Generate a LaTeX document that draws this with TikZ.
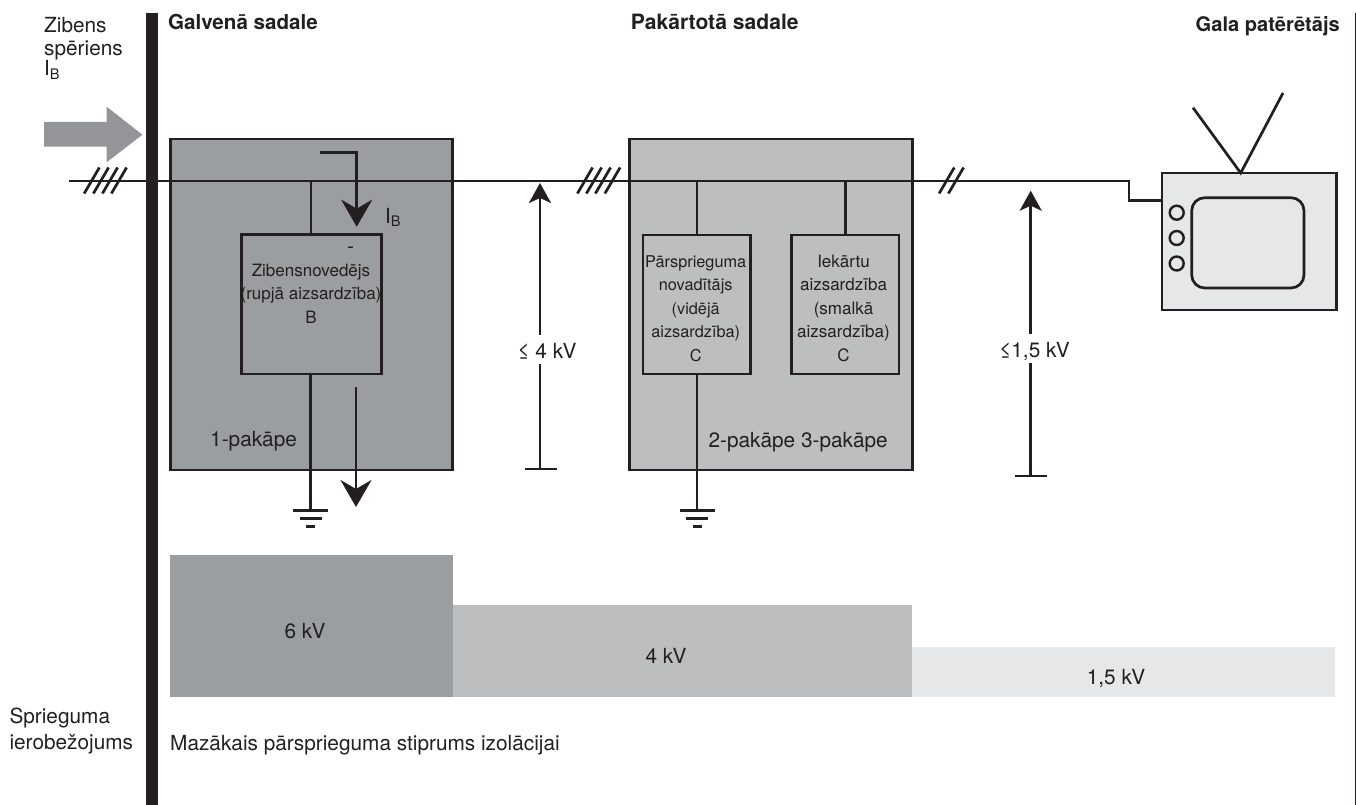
\documentclass[tikz,border=0pt]{standalone}
\usepackage{fontspec}
\setmainfont{TeX Gyre Heros}
\usetikzlibrary{arrows.meta}
\definecolor{ink}{HTML}{231F20}
\definecolor{gdark}{HTML}{9B9EA0}
\definecolor{gmid}{HTML}{BCBEC0}
\definecolor{glight}{HTML}{E6E7E8}
\definecolor{garrow}{HTML}{939598}
\newcommand{\Ground}[1]{%
  \draw[wire] (#1) ++(-17.5,0) -- ++(35,0);
  \draw[wire] (#1) ++(-11,8) -- ++(22,0);
  \draw[wire] (#1) ++(-4.5,16) -- ++(9,0);}
\newcommand{\Hatch}[1]{\draw[wire] (#1) ++(-7.6,13) -- ++(15.2,-26);}
\tikzset{
  x=1pt,y=-1pt,
  wire/.style={draw=ink,line width=2.7pt},
  stage/.style={draw=ink,line width=2.7pt,anchor=north west,inner sep=0,outer sep=0},
  spd/.style={draw=ink,line width=2.7pt,anchor=north west,inner sep=0,outer sep=0,fill=none},
  lbl/.style={text=ink,font=\fontsize{20.8}{23.5}\selectfont,inner sep=0,align=center},
  head/.style={lbl,anchor=base west,font=\fontsize{20.6}{23.5}\selectfont\bfseries},
  boxtxt/.style={lbl,anchor=north,font=\fontsize{#1}{23.5}\selectfont},
  big/.style={wire,-{Stealth[length=27pt,width=31pt,inset=9pt]}},
  small/.style={wire,-{Stealth[length=20pt,width=22pt,inset=5pt]}},
  band/.style={anchor=north west,inner sep=0,outer sep=0},
  knob/.style={circle,draw=ink,line width=2.4pt,minimum size=14pt,inner sep=0,fill=none},
  gaplbl/.style={lbl,anchor=base,fill=white,text height=23pt,text depth=6pt,inner xsep=1pt}
}
\begin{document}
\begin{tikzpicture}
\useasboundingbox (0,0) rectangle (1356,805);
% bands
\node[band,fill=gdark,minimum width=283pt,minimum height=142pt] (b6) at (170,555) {};
\node[band,fill=gmid,minimum width=459pt,minimum height=92pt] (b4) at (453,605) {};
\node[band,fill=glight,minimum width=423pt,minimum height=50pt] (b15) at (912,647) {};
\node[lbl,anchor=base] (t6) at (305,638) {6 kV};
\node[lbl,anchor=base] (t4) at (666,663) {4 kV};
\node[lbl,anchor=base] (t15) at (1116,684) {1,5 kV};
% stages
\node[stage,fill=gdark,minimum width=282pt,minimum height=331pt] (s1) at (170.7,139) {};
\node[stage,fill=gmid,minimum width=283pt,minimum height=331pt] (s2) at (629.3,139) {};
% tv
\node[stage,fill=glight,minimum width=174.7pt,minimum height=137pt] (tv) at (1162,173) {};
\draw[wire,rounded corners=13pt,fill=glight] (1191.7,197.7) rectangle (1304,288);
\node[knob] (k1) at (1176.7,212.7) {};
\node[knob] (k2) at (1176.7,238) {};
\node[knob] (k3) at (1176.7,263.5) {};
\coordinate (ant) at (1240.7,173);
\coordinate (antL) at (1193,107.7);
\coordinate (antR) at (1283,93);
\draw[wire] (antL) -- (ant) -- (antR);
% bar and right edge
\fill[ink] (146,13) rectangle (158,805);
\coordinate (edgeT) at (1355.4,13);
\coordinate (edgeB) at (1355.4,805);
\draw[draw=ink,line width=1.2pt] (edgeT) -- (edgeB);
% main line
\coordinate (lineL) at (69,181);
\coordinate (lineK) at (1129,181);
\coordinate (lineJ) at (1129,200.7);
\draw[wire] (lineL) -- (lineK) -- (lineJ) -- (tv.west |- lineJ);
\Hatch{91.8,180.5}\Hatch{101,180.5}\Hatch{110,180.5}\Hatch{119,180.5}
\Hatch{585,180.5}\Hatch{594,180.5}\Hatch{603,180.5}\Hatch{612.5,180.5}
\Hatch{946.7,180.5}\Hatch{956,180.5}
% SPD boxes
\node[spd,minimum width=140pt,minimum height=139.5pt] (z) at (241.7,234.5) {};
\node[spd,minimum width=107.7pt,minimum height=139pt] (p) at (643,235) {};
\node[spd,minimum width=107.3pt,minimum height=139pt] (i) at (791.7,235) {};
\node[lbl] (zd) at (350.7,250.5) {-};
\node[boxtxt=17] (zt) at (311,263.5) {Zibensnovedējs\\(rupjā aizsardzība)\\B};
\node[boxtxt=16.3] (pt) at (695.7,255) {Pārsprieguma\\novadītājs\\(vidējā\\aizsardzība)\\C};
\node[boxtxt=17] (it) at (843.5,254.7) {Iekārtu\\aizsardzība\\(smalkā\\aizsardzība)\\C};
% stems
\draw[wire] (311,181) -- (z.north -| 311,0);
\draw[wire] (697,181) -- (p.north -| 697,0);
\draw[wire] (845.7,181) -- (i.north -| 845.7,0);
\coordinate (g1) at (310.7,510.7);
\coordinate (g2) at (697,510.7);
\draw[wire] (z.south -| g1) -- (g1);
\draw[wire] (p.south -| g2) -- (g2);
\Ground{g1}\Ground{g2}
% current arrows
\coordinate (c1a) at (320,152.7);
\coordinate (c1b) at (356.7,152.7);
\coordinate (c1c) at (356.7,226.7);
\draw[big] (c1a) -- (c1b) -- (c1c);
\coordinate (c2a) at (356,387);
\coordinate (c2b) at (356,507);
\draw[big] (c2a) -- (c2b);
% voltage arrows
\coordinate (v1t) at (540,183);
\coordinate (v1b) at (540,469);
\draw[small] (v1b) -- (v1t);
\coordinate (v1l) at (525,469);
\coordinate (v1r) at (557,469);
\draw[wire] (v1l) -- (v1r);
\node[gaplbl] (v1) at (547,358) {≤ 4 kV};
\coordinate (v2t) at (1030.7,190.7);
\coordinate (v2b) at (1030.7,476);
\draw[small] (v2b) -- (v2t);
\coordinate (v2l) at (1015,476);
\coordinate (v2r) at (1047,476);
\draw[wire] (v2l) -- (v2r);
\node[gaplbl] (v2) at (1034.5,357) {≤1,5 kV};
% big arrow
\fill[garrow] (44,122) -- (106.7,122) -- (106.7,106.7) -- (142.3,134.7) -- (106.7,162.3) -- (106.7,146.7) -- (44,146.7) -- cycle;
% labels
\node[lbl,anchor=north west,align=left] (zs) at (44,17) {Zibens\\spēriens\\[-3.5pt]I\textsubscript{B}};
\node[lbl,anchor=base west] (ib) at (385,223) {I\textsubscript{B}};
\node[head] (h1) at (168,30) {Galvenā sadale};
\node[head,font=\fontsize{21.1}{23.5}\selectfont\bfseries] (h2) at (630.7,30) {Pakārtotā sadale};
\node[head,anchor=base east,font=\fontsize{20.1}{23.5}\selectfont\bfseries] (h3) at (1340,31.7) {Gala patērētājs};
\node[lbl,anchor=base west] (p1) at (210,446) {1-pakāpe};
\node[lbl,anchor=base west] (p2) at (708.3,447) {2-pakāpe 3-pakāpe};
\node[lbl,anchor=north west,align=left] (sp) at (9.3,708) {Sprieguma\\[2.5pt]ierobežojums};
\node[lbl,anchor=base west] (ma) at (170,750) {Mazākais pārsprieguma stiprums izolācijai};
\end{tikzpicture}
\end{document}
